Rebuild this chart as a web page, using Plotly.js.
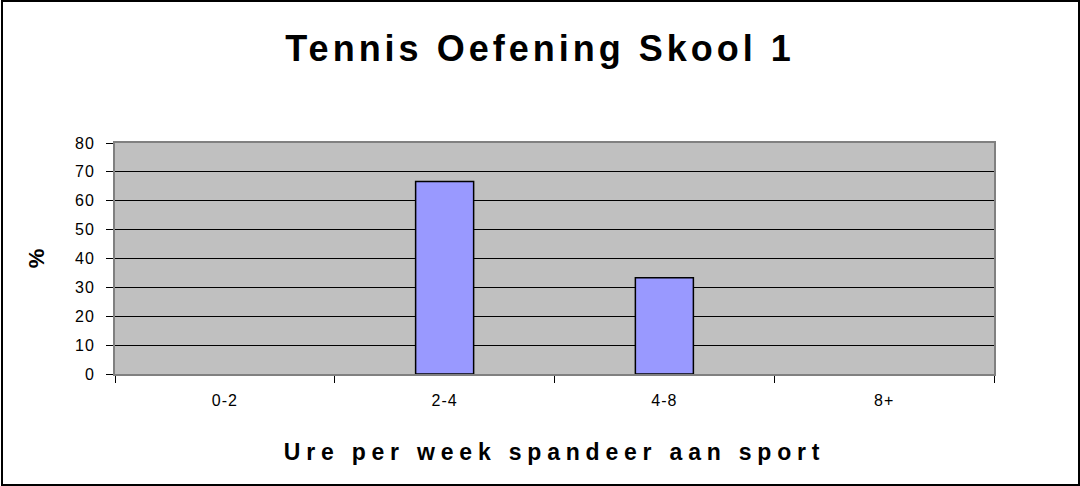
<!DOCTYPE html>
<html>
<head>
<meta charset="utf-8">
<script src="https://cdn.plot.ly/plotly-3.0.1.min.js"></script>
<style>
  html, body { margin: 0; padding: 0; background: #fff; }
  #wrap { position: relative; width: 1080px; height: 486px; }
  #chart { position: absolute; left: 0; top: 0; width: 1080px; height: 486px; }
  #frame { position: absolute; left: 1px; top: 0; width: 1079px; height: 486px;
           box-sizing: border-box; border: 2px solid #000; pointer-events: none; }
  .gtitle { letter-spacing: 4px; }
  .xtitle { letter-spacing: 5.8px; }
  .xtick text, .ytick text { letter-spacing: 1px; }
</style>
</head>
<body>
<div id="wrap">
  <div id="chart"></div>
  <div id="frame"></div>
</div>
<script>
const categories = ["0-2", "2-4", "4-8", "8+"];
const percentValues = [0, 66.67, 33.33, 0];
const yTickValues = [0, 10, 20, 30, 40, 50, 60, 70, 80];

const FONT = '"Liberation Sans", Arial, Helvetica, sans-serif';

const trace = {
  type: 'bar',
  x: categories,
  y: percentValues,
  marker: {
    color: '#9999FF',
    line: { color: '#000000', width: percentValues.map(v => (v === 0 ? 0 : 1.5)) }
  },
  hoverinfo: 'x+y'
};

const layout = {
  width: 1080,
  height: 486,
  margin: { l: 115, r: 86, t: 143, b: 112, pad: 0 },
  paper_bgcolor: '#FFFFFF',
  plot_bgcolor: '#C0C0C0',
  bargap: 0.736,
  showlegend: false,
  font: { family: FONT, color: '#000' },
  title: {
    text: '<b>Tennis Oefening Skool 1</b>',
    font: { family: FONT, size: 36, color: '#000' },
    x: 0.5, xref: 'container', xanchor: 'center',
    y: 1 - 48 / 486, yref: 'container', yanchor: 'middle'
  },
  xaxis: {
    type: 'category',
    tickfont: { family: FONT, size: 16, color: '#000' },
    ticks: 'outside', ticklen: 7, tickcolor: '#000', tickwidth: 1,
    tickson: 'boundaries',
    ticklabelstandoff: 11,
    showline: true, linecolor: '#808080', linewidth: 2, mirror: true,
    showgrid: false, zeroline: false,
    title: {
      text: '<b>Ure per week spandeer aan sport</b>',
      font: { family: FONT, size: 23, color: '#000' },
      standoff: 36
    }
  },
  yaxis: {
    range: [0, 80],
    tickvals: yTickValues,
    ticktext: yTickValues.map(String),
    tickfont: { family: FONT, size: 16, color: '#000' },
    ticks: 'outside', ticklen: 7, tickcolor: '#000', tickwidth: 1,
    ticklabelstandoff: 8,
    showline: true, linecolor: '#808080', linewidth: 2, mirror: true,
    showgrid: true, gridcolor: '#000000', gridwidth: 1,
    zeroline: false,
    title: {
      text: '<b>%</b>',
      font: { family: FONT, size: 22, color: '#000' },
      standoff: 24
    }
  }
};

Plotly.newPlot('chart', [trace], layout, { displayModeBar: false, staticPlot: true });
</script>
</body>
</html>
